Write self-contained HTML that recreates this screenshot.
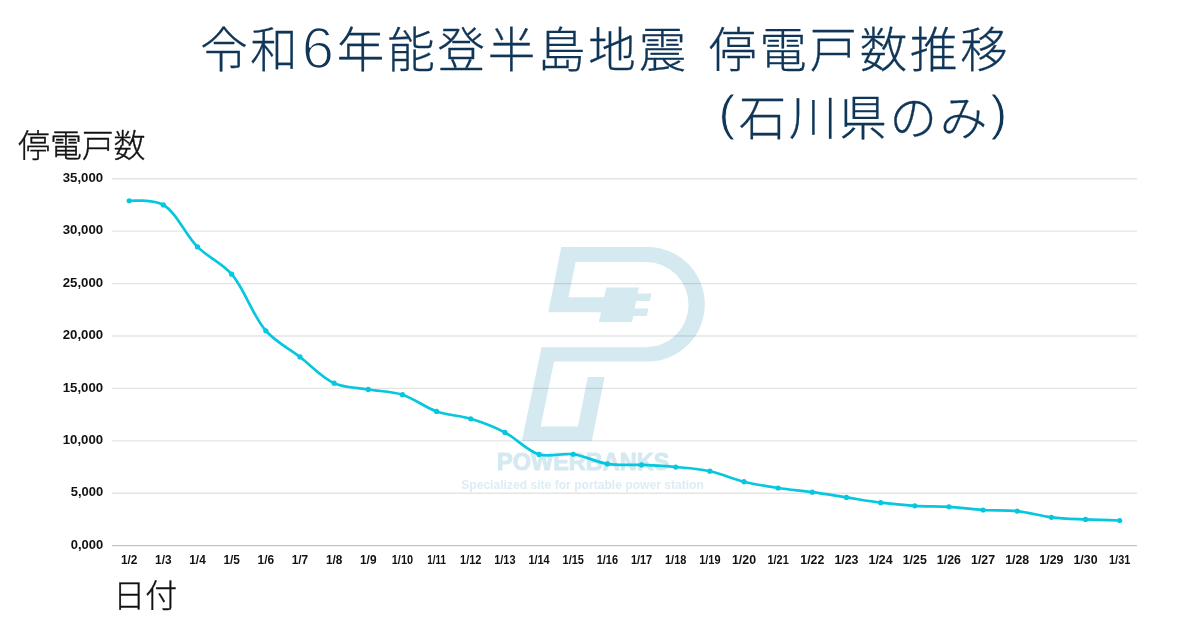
<!DOCTYPE html>
<html lang="ja">
<head>
<meta charset="utf-8">
<title>令和6年能登半島地震 停電戸数推移 (石川県のみ)</title>
<style>
html,body{margin:0;padding:0;background:#fff;}
body{width:1200px;height:630px;overflow:hidden;}
svg{display:block;}
.jp{font-family:"Liberation Sans","Noto Sans CJK JP",sans-serif;font-weight:300;}
.lat{font-family:"Liberation Sans",sans-serif;font-weight:400;}
.num{font-family:"Liberation Sans",sans-serif;font-weight:700;fill:#111;}
</style>
</head>
<body>
<svg width="1200" height="630" viewBox="0 0 1200 630">
<rect width="1200" height="630" fill="#ffffff"/>
<g id="watermark" fill="#d5e9f1">
<path transform="translate(0,0.4)" fill-rule="evenodd" d="M561.3,246.5 L647.5,246.5 A57.3,57.3 0 0 1 647.5,361.1 L554,361.1 L540.7,426 L577.9,426 L587.8,376.7 L604.6,376.7 L591.8,440.6 L521.8,440.6 L541.6,346.8 L646,346.8 A42.55,42.55 0 0 0 646,261.7 L575.6,261.7 L568.4,296.9 L604.2,296.9 L606.3,287 L638.9,287 L637.6,293.1 L651.4,293.1 L650,300.6 L636.1,300.6 L634.6,308.1 L648.3,308.1 L646.9,315.6 L633.2,315.6 L632,321.7 L598.9,321.7 L601,311.9 L548.3,311.9 Z"/>
<text x="497.0" y="470.4" textLength="172.4" lengthAdjust="spacingAndGlyphs" font-family="'Liberation Sans',sans-serif" font-weight="700" font-size="23.2" stroke="#d5e9f1" stroke-width="1.0" stroke-linejoin="round">POWERBANKS</text>
<text x="461.2" y="488.9" textLength="242.7" lengthAdjust="spacingAndGlyphs" font-family="'Liberation Sans',sans-serif" font-weight="700" font-size="12.8" fill="#dcedf4">Specialized site for portable power station</text>
</g>
<g id="grid" stroke-width="1">
<line x1="112.0" x2="1136.9" y1="545.65" y2="545.65" stroke="rgba(0,0,0,0.24)" stroke-width="1.3"/>
<line x1="112.0" x2="1136.9" y1="493.24" y2="493.24" stroke="rgba(0,0,0,0.105)" stroke-width="1.3"/>
<line x1="112.0" x2="1136.9" y1="440.82" y2="440.82" stroke="rgba(0,0,0,0.105)" stroke-width="1.3"/>
<line x1="112.0" x2="1136.9" y1="388.41" y2="388.41" stroke="rgba(0,0,0,0.105)" stroke-width="1.3"/>
<line x1="112.0" x2="1136.9" y1="335.99" y2="335.99" stroke="rgba(0,0,0,0.105)" stroke-width="1.3"/>
<line x1="112.0" x2="1136.9" y1="283.58" y2="283.58" stroke="rgba(0,0,0,0.105)" stroke-width="1.3"/>
<line x1="112.0" x2="1136.9" y1="231.17" y2="231.17" stroke="rgba(0,0,0,0.105)" stroke-width="1.3"/>
<line x1="112.0" x2="1136.9" y1="178.75" y2="178.75" stroke="rgba(0,0,0,0.105)" stroke-width="1.3"/>
</g>
<g id="ylabels" class="num" font-size="12.2" text-anchor="end">
<text x="103.1" y="548.75" textLength="32.4" lengthAdjust="spacingAndGlyphs">0,000</text>
<text x="103.1" y="496.34" textLength="32.4" lengthAdjust="spacingAndGlyphs">5,000</text>
<text x="103.1" y="443.92" textLength="40.4" lengthAdjust="spacingAndGlyphs">10,000</text>
<text x="103.1" y="391.51" textLength="40.4" lengthAdjust="spacingAndGlyphs">15,000</text>
<text x="103.1" y="339.09" textLength="40.4" lengthAdjust="spacingAndGlyphs">20,000</text>
<text x="103.1" y="286.68" textLength="40.4" lengthAdjust="spacingAndGlyphs">25,000</text>
<text x="103.1" y="234.27" textLength="40.4" lengthAdjust="spacingAndGlyphs">30,000</text>
<text x="103.1" y="181.85" textLength="40.4" lengthAdjust="spacingAndGlyphs">35,000</text>
</g>
<g id="xlabels" class="num" font-size="12.8" text-anchor="middle">
<text x="129.20" y="563.9" textLength="16.5" lengthAdjust="spacingAndGlyphs">1/2</text>
<text x="163.35" y="563.9" textLength="16.5" lengthAdjust="spacingAndGlyphs">1/3</text>
<text x="197.51" y="563.9" textLength="16.5" lengthAdjust="spacingAndGlyphs">1/4</text>
<text x="231.66" y="563.9" textLength="16.5" lengthAdjust="spacingAndGlyphs">1/5</text>
<text x="265.82" y="563.9" textLength="16.5" lengthAdjust="spacingAndGlyphs">1/6</text>
<text x="299.98" y="563.9" textLength="16.5" lengthAdjust="spacingAndGlyphs">1/7</text>
<text x="334.13" y="563.9" textLength="16.5" lengthAdjust="spacingAndGlyphs">1/8</text>
<text x="368.28" y="563.9" textLength="16.5" lengthAdjust="spacingAndGlyphs">1/9</text>
<text x="402.44" y="563.9" textLength="21.3" lengthAdjust="spacingAndGlyphs">1/10</text>
<text x="436.59" y="563.9" textLength="18.5" lengthAdjust="spacingAndGlyphs">1/11</text>
<text x="470.75" y="563.9" textLength="21.3" lengthAdjust="spacingAndGlyphs">1/12</text>
<text x="504.91" y="563.9" textLength="21.3" lengthAdjust="spacingAndGlyphs">1/13</text>
<text x="539.06" y="563.9" textLength="21.3" lengthAdjust="spacingAndGlyphs">1/14</text>
<text x="573.21" y="563.9" textLength="21.3" lengthAdjust="spacingAndGlyphs">1/15</text>
<text x="607.37" y="563.9" textLength="21.3" lengthAdjust="spacingAndGlyphs">1/16</text>
<text x="641.53" y="563.9" textLength="21.3" lengthAdjust="spacingAndGlyphs">1/17</text>
<text x="675.68" y="563.9" textLength="21.3" lengthAdjust="spacingAndGlyphs">1/18</text>
<text x="709.84" y="563.9" textLength="21.3" lengthAdjust="spacingAndGlyphs">1/19</text>
<text x="743.99" y="563.9" textLength="24.1" lengthAdjust="spacingAndGlyphs">1/20</text>
<text x="778.14" y="563.9" textLength="21.3" lengthAdjust="spacingAndGlyphs">1/21</text>
<text x="812.30" y="563.9" textLength="24.1" lengthAdjust="spacingAndGlyphs">1/22</text>
<text x="846.45" y="563.9" textLength="24.1" lengthAdjust="spacingAndGlyphs">1/23</text>
<text x="880.61" y="563.9" textLength="24.1" lengthAdjust="spacingAndGlyphs">1/24</text>
<text x="914.77" y="563.9" textLength="24.1" lengthAdjust="spacingAndGlyphs">1/25</text>
<text x="948.92" y="563.9" textLength="24.1" lengthAdjust="spacingAndGlyphs">1/26</text>
<text x="983.08" y="563.9" textLength="24.1" lengthAdjust="spacingAndGlyphs">1/27</text>
<text x="1017.23" y="563.9" textLength="24.1" lengthAdjust="spacingAndGlyphs">1/28</text>
<text x="1051.38" y="563.9" textLength="24.1" lengthAdjust="spacingAndGlyphs">1/29</text>
<text x="1085.54" y="563.9" textLength="24.1" lengthAdjust="spacingAndGlyphs">1/30</text>
<text x="1119.69" y="563.9" textLength="21.3" lengthAdjust="spacingAndGlyphs">1/31</text>
</g>
<path d="M129.20,200.77C129.20,200.77 152.99,199.23 163.35,204.96C176.35,212.14 185.45,234.95 197.51,246.89C208.35,257.62 221.23,262.26 231.66,274.15C244.49,288.77 252.93,316.33 265.82,330.75C276.22,342.39 288.59,348.22 299.98,356.96C311.36,365.70 322.06,377.80 334.13,383.17C344.97,387.98 356.89,387.53 368.28,389.46C379.66,391.38 391.32,391.20 402.44,394.70C414.11,398.36 424.96,407.43 436.59,411.47C447.75,415.34 459.51,415.38 470.75,418.81C482.28,422.32 493.79,426.70 504.91,432.44C516.59,438.46 527.14,450.98 539.06,454.45C549.99,457.63 561.94,452.71 573.21,454.24C584.71,455.80 595.88,462.11 607.37,463.88C618.65,465.62 630.14,464.41 641.53,464.93C652.91,465.46 664.31,465.98 675.68,467.03C687.08,468.08 698.55,468.82 709.84,471.22C721.33,473.67 732.52,478.90 743.99,481.70C755.30,484.47 766.73,486.25 778.14,487.99C789.50,489.74 800.93,490.62 812.30,492.19C823.70,493.76 835.07,495.68 846.45,497.43C857.84,499.18 869.20,501.27 880.61,502.67C891.97,504.06 903.37,505.12 914.77,505.82C926.14,506.51 937.55,506.17 948.92,506.86C960.32,507.56 971.68,509.31 983.08,510.01C994.45,510.71 1005.89,509.85 1017.23,511.06C1028.66,512.28 1039.96,515.95 1051.38,517.35C1062.73,518.73 1074.15,518.92 1085.54,519.44C1096.92,519.97 1119.69,520.49 1119.69,520.49" fill="none" stroke="#06c7dd" stroke-width="2.7" stroke-linecap="round" stroke-linejoin="round"/>
<g fill="#06c7dd">
<circle cx="129.20" cy="200.77" r="2.6"/>
<circle cx="163.35" cy="204.96" r="2.6"/>
<circle cx="197.51" cy="246.89" r="2.6"/>
<circle cx="231.66" cy="274.15" r="2.6"/>
<circle cx="265.82" cy="330.75" r="2.6"/>
<circle cx="299.98" cy="356.96" r="2.6"/>
<circle cx="334.13" cy="383.17" r="2.6"/>
<circle cx="368.28" cy="389.46" r="2.6"/>
<circle cx="402.44" cy="394.70" r="2.6"/>
<circle cx="436.59" cy="411.47" r="2.6"/>
<circle cx="470.75" cy="418.81" r="2.6"/>
<circle cx="504.91" cy="432.44" r="2.6"/>
<circle cx="539.06" cy="454.45" r="2.6"/>
<circle cx="573.21" cy="454.24" r="2.6"/>
<circle cx="607.37" cy="463.88" r="2.6"/>
<circle cx="641.53" cy="464.93" r="2.6"/>
<circle cx="675.68" cy="467.03" r="2.6"/>
<circle cx="709.84" cy="471.22" r="2.6"/>
<circle cx="743.99" cy="481.70" r="2.6"/>
<circle cx="778.14" cy="487.99" r="2.6"/>
<circle cx="812.30" cy="492.19" r="2.6"/>
<circle cx="846.45" cy="497.43" r="2.6"/>
<circle cx="880.61" cy="502.67" r="2.6"/>
<circle cx="914.77" cy="505.82" r="2.6"/>
<circle cx="948.92" cy="506.86" r="2.6"/>
<circle cx="983.08" cy="510.01" r="2.6"/>
<circle cx="1017.23" cy="511.06" r="2.6"/>
<circle cx="1051.38" cy="517.35" r="2.6"/>
<circle cx="1085.54" cy="519.44" r="2.6"/>
<circle cx="1119.69" cy="520.49" r="2.6"/>
</g>
<text class="jp" y="66.5" font-size="47.5" fill="#0f3557" text-anchor="middle" stroke="#0f3557" stroke-width="0.3" stroke-linejoin="round"><tspan x="224.0">令</tspan><tspan x="274.0">和</tspan><tspan x="360.6">年</tspan><tspan x="410.9">能</tspan><tspan x="461.2">登</tspan><tspan x="511.5">半</tspan><tspan x="561.8">島</tspan><tspan x="612.1">地</tspan><tspan x="662.4">震</tspan><tspan x="732.6">停</tspan><tspan x="782.9">電</tspan><tspan x="833.2">戸</tspan><tspan x="883.5">数</tspan><tspan x="933.8">推</tspan><tspan x="984.1">移</tspan></text>
<text class="lat" x="317.8" y="68.2" font-size="58" fill="#0f3557" stroke="#fff" stroke-width="1.7" text-anchor="middle">6</text>
<text class="jp" y="134.9" font-size="47.5" fill="#0f3557" text-anchor="middle" stroke="#0f3557" stroke-width="0.3" stroke-linejoin="round"><tspan x="762.4">石</tspan><tspan x="812.7">川</tspan><tspan x="863.0">県</tspan><tspan x="913.3">の</tspan><tspan x="963.6">み</tspan></text>
<text class="lat" x="726.8" y="130.2" font-size="50" fill="#0f3557" stroke="#fff" stroke-width="0.9" text-anchor="middle">(</text>
<text class="lat" x="998.8" y="130.2" font-size="50" fill="#0f3557" stroke="#fff" stroke-width="0.9" text-anchor="middle">)</text>
<text class="jp" y="156.5" font-size="32" fill="#111" text-anchor="middle" stroke="#111" stroke-width="0.35" stroke-linejoin="round"><tspan x="34.1">停</tspan><tspan x="65.9">電</tspan><tspan x="97.7">戸</tspan><tspan x="129.5">数</tspan></text>
<text class="jp" y="607.0" font-size="32" fill="#111" text-anchor="middle" stroke="#111" stroke-width="0.35" stroke-linejoin="round"><tspan x="129.3">日</tspan><tspan x="161.2">付</tspan></text>
</svg>
</body>
</html>
